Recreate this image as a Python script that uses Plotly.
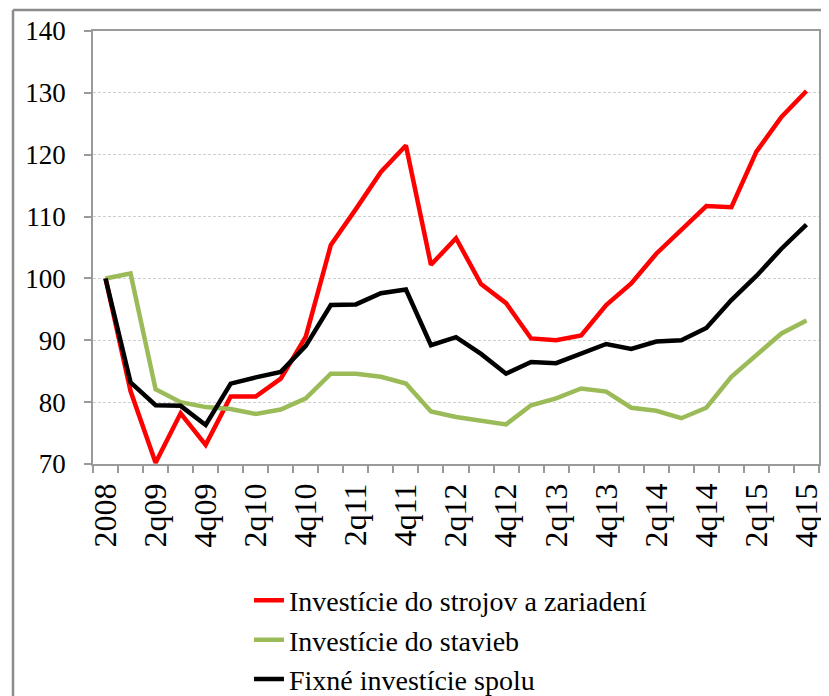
import plotly.graph_objects as go

categories = ["2008",
              "1q09", "2q09", "3q09", "4q09",
              "1q10", "2q10", "3q10", "4q10",
              "1q11", "2q11", "3q11", "4q11",
              "1q12", "2q12", "3q12", "4q12",
              "1q13", "2q13", "3q13", "4q13",
              "1q14", "2q14", "3q14", "4q14",
              "1q15", "2q15", "3q15", "4q15"]

machinery = [100.0, 81.8, 70.2, 78.2, 73.1, 80.9, 80.9, 83.8, 90.6, 105.4,
             111.2, 117.2, 121.5, 102.2, 106.5, 99.1, 96.0, 90.3, 90.0, 90.8,
             95.7, 99.2, 104.0, 107.8, 111.7, 111.5, 120.5, 126.1, 130.3]
buildings = [100.0, 100.8, 82.1, 80.0, 79.2, 78.9, 78.1, 78.8, 80.6, 84.6,
             84.6, 84.1, 83.0, 78.5, 77.6, 77.0, 76.4, 79.5, 80.6, 82.2,
             81.7, 79.1, 78.6, 77.4, 79.1, 84.1, 87.6, 91.1, 93.2]
total = [100.0, 83.2, 79.5, 79.4, 76.3, 83.0, 84.0, 84.9, 89.1, 95.7,
         95.8, 97.6, 98.2, 89.2, 90.5, 87.8, 84.6, 86.5, 86.3, 87.9,
         89.4, 88.6, 89.8, 90.0, 92.0, 96.5, 100.4, 104.8, 108.7]

series_names = ["Investície do strojov a zariadení",
                "Investície do stavieb",
                "Fixné investície spolu"]
series_colors = ["#FF0000", "#9BBB59", "#000000"]

yticks = [70, 80, 90, 100, 110, 120, 130, 140]

x = list(range(len(categories)))

fig = go.Figure()
for name, vals, col in zip(series_names, [machinery, buildings, total], series_colors):
    fig.add_trace(go.Scatter(x=x, y=vals, mode="lines", name=name,
                             line=dict(color=col, width=4.5)))

font_family = "Liberation Serif, Times New Roman, serif"
axis_gray = "#9a9a9a"

# the page body has an 8px margin, so the figure is 8px smaller each way
fig.update_layout(
    width=821, height=688,
    margin=dict(l=85, r=10, t=23, b=232, autoexpand=False),
    paper_bgcolor="white", plot_bgcolor="white",
    font=dict(family=font_family, size=27, color="black"),
    showlegend=True,
    legend=dict(xref="container", yref="container",
                x=0.2935, y=0.175, xanchor="left", yanchor="top",
                font=dict(size=28, family=font_family, color="black"),
                bgcolor="rgba(0,0,0,0)", tracegroupgap=0),
    xaxis=dict(range=[-0.5, len(categories) - 0.5], automargin=False,
               tickmode="array", tickvals=x[::2], ticktext=categories[::2],
               tickangle=-90, ticks="", showgrid=False, zeroline=False,
               showline=True, linecolor=axis_gray, linewidth=1.5, mirror=True,
               tickfont=dict(size=32, family=font_family, color="black"),
               minor=dict(tickmode="array",
                          tickvals=[i - 0.5 for i in range(len(categories) + 1)],
                          ticks="outside", ticklen=7, tickcolor=axis_gray,
                          tickwidth=1.5, showgrid=False),
               ticklabelstandoff=5),
    yaxis=dict(range=[70, 140], tickmode="array", tickvals=yticks, automargin=False,
               ticks="outside", ticklen=7, tickcolor=axis_gray, tickwidth=1.5,
               showgrid=True, gridcolor="#cfcfcf", gridwidth=1, griddash="3px,2px",
               zeroline=False, showline=True, linecolor=axis_gray, linewidth=1.5,
               mirror=True, tickfont=dict(size=27, family=font_family, color="black"),
               ticklabelstandoff=13),
)

# outer chart frame (top and left edges visible)
x_left = (5 - 85) / 726
y_top = (456 - 2) / 433
fig.add_shape(type="line", xref="paper", yref="paper",
              x0=x_left, x1=1.2, y0=y_top, y1=y_top,
              line=dict(color="#8c8c8c", width=2.5))
fig.add_shape(type="line", xref="paper", yref="paper",
              x0=x_left, x1=x_left, y0=y_top, y1=-0.7,
              line=dict(color="#8c8c8c", width=2.5))

fig.write_html("out.html")
